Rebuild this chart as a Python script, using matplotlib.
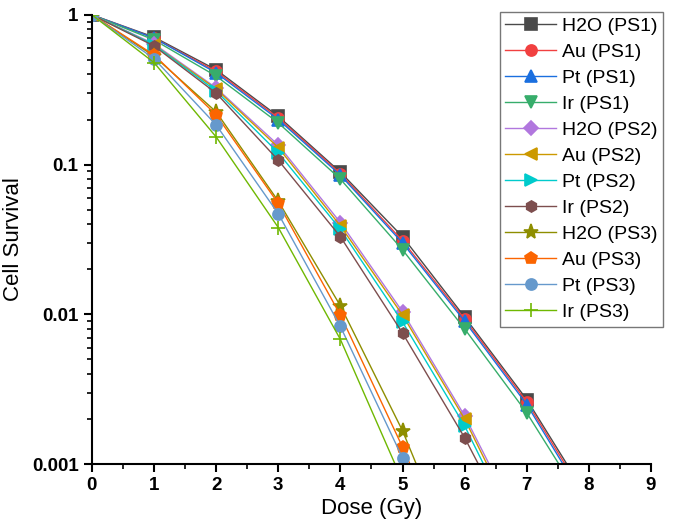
import numpy as np
import matplotlib
matplotlib.use('Agg')
import matplotlib.pyplot as plt
from matplotlib.ticker import FixedLocator, FixedFormatter, LogLocator, MultipleLocator

plt.rcParams['font.family'] = ['Liberation Sans', 'DejaVu Sans']

# dose points; the last value of each series lies below the axis (line runs off the bottom)
dose_ps1 = [0, 1, 2, 3, 4, 5, 6, 7, 8]
dose_ps2 = [0, 1, 2, 3, 4, 5, 6, 7]
dose_ps3 = [0, 1, 2, 3, 4, 5, 6]
dose_ir3 = [0, 1, 2, 3, 4, 5]

h2o_ps1 = [1, 0.71, 0.43, 0.21, 0.089, 0.033, 0.0096, 0.0027, 0.00058]
au_ps1 = [1, 0.70, 0.42, 0.205, 0.087, 0.031, 0.0093, 0.0026, 0.00055]
pt_ps1 = [1, 0.70, 0.41, 0.20, 0.085, 0.030, 0.0090, 0.0025, 0.00052]
ir_ps1 = [1, 0.68, 0.39, 0.19, 0.080, 0.027, 0.0080, 0.0022, 0.00048]

h2o_ps2 = [1, 0.64, 0.325, 0.135, 0.041, 0.0104, 0.0021, 0.00032]
au_ps2 = [1, 0.63, 0.32, 0.13, 0.039, 0.0099, 0.0020, 0.00029]
pt_ps2 = [1, 0.63, 0.31, 0.12, 0.037, 0.0089, 0.0018, 0.00026]
ir_ps2 = [1, 0.62, 0.30, 0.107, 0.033, 0.0075, 0.0015, 0.00024]

h2o_ps3 = [1, 0.53, 0.225, 0.057, 0.0114, 0.00167, 0.000165]
au_ps3 = [1, 0.54, 0.215, 0.055, 0.0099, 0.0013, 0.000145]
pt_ps3 = [1, 0.51, 0.184, 0.047, 0.0083, 0.0011, 0.00011]
ir_ps3 = [1, 0.48, 0.153, 0.038, 0.0068, 0.00077]

series = [
    ('H2O (PS1)', dose_ps1, h2o_ps1, '#4a4a4a', 's'),
    ('Au (PS1)', dose_ps1, au_ps1, '#f14040', 'o'),
    ('Pt (PS1)', dose_ps1, pt_ps1, '#1a6fdf', '^'),
    ('Ir (PS1)', dose_ps1, ir_ps1, '#37ad6b', 'v'),
    ('H2O (PS2)', dose_ps2, h2o_ps2, '#b177de', 'D'),
    ('Au (PS2)', dose_ps2, au_ps2, '#cc9900', '<'),
    ('Pt (PS2)', dose_ps2, pt_ps2, '#00cbcc', '>'),
    ('Ir (PS2)', dose_ps2, ir_ps2, '#7d4e4e', 'h'),
    ('H2O (PS3)', dose_ps3, h2o_ps3, '#8e8e00', '*'),
    ('Au (PS3)', dose_ps3, au_ps3, '#fb6501', 'p'),
    ('Pt (PS3)', dose_ps3, pt_ps3, '#6699cc', 'o'),
    ('Ir (PS3)', dose_ir3, ir_ps3, '#6fb802', '+'),
]

fig = plt.figure(figsize=(6.76, 5.31), dpi=100)
ax = fig.add_axes([0.136, 0.126, 0.827, 0.846])

for label, x, y, c, m in series:
    n = len(x) - 1
    ms = 8
    if m == '*':
        ms = 11
    elif m == '+':
        ms = 10
    elif m == 'D':
        ms = 7
    elif m == 'p':
        ms = 9
    ax.plot(x, y, '-', color=c, lw=1.0, marker=m, markevery=list(range(n)),
            ms=ms, mec=c, mfc=c, mew=1.2, label=label)

ax.set_yscale('log')
ax.set_xlim(0, 9)
ax.set_ylim(0.001, 1)

ax.xaxis.set_major_locator(MultipleLocator(1))
ax.xaxis.set_minor_locator(MultipleLocator(0.5))
ax.yaxis.set_major_locator(FixedLocator([0.001, 0.01, 0.1, 1]))
ax.yaxis.set_major_formatter(FixedFormatter(['0.001', '0.01', '0.1', '1']))
ax.yaxis.set_minor_locator(LogLocator(base=10, subs=np.arange(2, 10)))
ax.yaxis.set_minor_formatter(FixedFormatter([]))

for s in ['top', 'right']:
    ax.spines[s].set_visible(False)
for s in ['left', 'bottom']:
    ax.spines[s].set_linewidth(1.5)

ax.tick_params(which='major', direction='out', length=6, width=1.5, labelsize=13.5)
ax.tick_params(which='minor', direction='out', length=3.5, width=1.2)
for t in ax.get_xticklabels() + ax.get_yticklabels():
    t.set_fontweight('bold')

ax.set_xlabel('Dose (Gy)', fontsize=16, labelpad=3)
ax.set_ylabel('Cell Survival', fontsize=16, labelpad=6)

leg = ax.legend(loc='upper right', bbox_to_anchor=(0.981, 0.978), bbox_transform=fig.transFigure,
                fontsize=14, frameon=True, fancybox=False, edgecolor='#555555',
                handlelength=2.6, handletextpad=0.3, labelspacing=0.43,
                borderpad=0.3, borderaxespad=0)
leg.get_frame().set_linewidth(1.0)

fig.savefig('out.png', dpi=100)
